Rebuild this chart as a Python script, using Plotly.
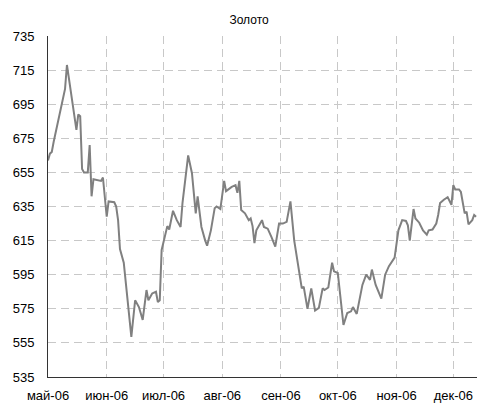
import plotly.graph_objects as go

dates = [
    "2006-05-01", "2006-05-02", "2006-05-03", "2006-05-04", "2006-05-10", "2006-05-11",
    "2006-05-16", "2006-05-17", "2006-05-18", "2006-05-19", "2006-05-20", "2006-05-22",
    "2006-05-23", "2006-05-24", "2006-05-25", "2006-05-28", "2006-05-29", "2006-05-30",
    "2006-06-01", "2006-06-02", "2006-06-05", "2006-06-06", "2006-06-07", "2006-06-08",
    "2006-06-10", "2006-06-14", "2006-06-16", "2006-06-18", "2006-06-20", "2006-06-22",
    "2006-06-23", "2006-06-25", "2006-06-27", "2006-06-28", "2006-06-29", "2006-06-30",
    "2006-07-02", "2006-07-03", "2006-07-04", "2006-07-06", "2006-07-08", "2006-07-10",
    "2006-07-11", "2006-07-14", "2006-07-16", "2006-07-17", "2006-07-18", "2006-07-19",
    "2006-07-21", "2006-07-23", "2006-07-24", "2006-07-26", "2006-07-28", "2006-07-29",
    "2006-07-31", "2006-08-02", "2006-08-03", "2006-08-06", "2006-08-08", "2006-08-09",
    "2006-08-10", "2006-08-11", "2006-08-13", "2006-08-15", "2006-08-16", "2006-08-17",
    "2006-08-18", "2006-08-19", "2006-08-22", "2006-08-23", "2006-08-25", "2006-08-27",
    "2006-08-29", "2006-08-31", "2006-09-02", "2006-09-04", "2006-09-06", "2006-09-08",
    "2006-09-11", "2006-09-12", "2006-09-13", "2006-09-15", "2006-09-17", "2006-09-19",
    "2006-09-21", "2006-09-23", "2006-09-24", "2006-09-26", "2006-09-28", "2006-09-29",
    "2006-10-01", "2006-10-04", "2006-10-06", "2006-10-08", "2006-10-09", "2006-10-11",
    "2006-10-14", "2006-10-16", "2006-10-18", "2006-10-19", "2006-10-21", "2006-10-24",
    "2006-10-26", "2006-10-28", "2006-10-31", "2006-11-02", "2006-11-04", "2006-11-06",
    "2006-11-07", "2006-11-08", "2006-11-10", "2006-11-11", "2006-11-13", "2006-11-15",
    "2006-11-17", "2006-11-18", "2006-11-20", "2006-11-22", "2006-11-23", "2006-11-24",
    "2006-11-26", "2006-11-28", "2006-11-30", "2006-12-01", "2006-12-02", "2006-12-04",
    "2006-12-05", "2006-12-07", "2006-12-08", "2006-12-09", "2006-12-11", "2006-12-12",
    "2006-12-13",
]

gold = [
    662, 666, 667, 673, 704, 718,
    680, 689, 688, 657, 655, 655,
    671, 641, 651, 650, 650, 652,
    629, 638, 637.5, 635, 627, 610,
    602, 558.5, 580, 576, 568.5, 586,
    580, 584, 585, 579, 580, 609.5,
    619, 623.5, 621.5, 632.5, 627, 623,
    637, 665, 654.5, 643, 631, 641,
    623, 615, 612, 621, 634, 635,
    633.5, 650, 644, 646.5, 647.5, 643,
    650, 633, 631, 627, 628, 623.5,
    613.5, 621, 627, 623, 622, 617,
    611.5, 625, 625, 626, 638, 615,
    592, 587, 588, 575, 587, 574,
    575.5, 587, 586, 587.5, 602, 597,
    596, 565.5, 572.5, 573.5, 576, 572,
    589, 595, 592, 598, 589, 581,
    595, 600, 605, 621, 627, 626.5,
    624, 615, 633.5, 628, 625.5, 621,
    618.5, 621, 621.5, 625, 630, 637,
    639, 640.5, 636, 647.5, 645, 645,
    643.5, 631, 632, 624.5, 627, 630,
    629,
]

month_starts = ["2006-05-01", "2006-06-01", "2006-07-01", "2006-08-01",
                "2006-09-01", "2006-10-01", "2006-11-01", "2006-12-01"]
month_labels = ["май-06", "июн-06", "июл-06", "авг-06",
                "сен-06", "окт-06", "ноя-06", "дек-06"]
y_ticks = [535, 555, 575, 595, 615, 635, 655, 675, 695, 715, 735]

font_family = "Liberation Sans, Arial, sans-serif"

fig = go.Figure()
fig.add_trace(go.Scatter(
    x=dates, y=gold, mode="lines",
    line=dict(color="#808080", width=2),
    hoverinfo="x+y", showlegend=False,
))

# the page body adds an 8px offset, so the figure is sized to fit the window
fig.update_layout(
    width=493, height=395,
    margin=dict(l=40, r=24, t=28, b=26, autoexpand=False),
    paper_bgcolor="white", plot_bgcolor="white",
    font=dict(family=font_family, size=13, color="#000000"),
    title=dict(text="Золото", x=0.489, xref="container", xanchor="center",
               y=0.97, yref="container", yanchor="middle",
               font=dict(family=font_family, size=12, color="#000000")),
)

fig.update_xaxes(
    type="date",
    range=["2006-05-01", "2006-12-13 12:00"],
    tickmode="array", tickvals=month_starts, ticktext=month_labels,
    showgrid=True, gridcolor="#c8c8c8", griddash="8px,5px", gridwidth=1,
    showline=True, linecolor="#333333", linewidth=1,
    ticks="", ticklabelstandoff=6, automargin=False,
    tickfont=dict(family=font_family, size=13, color="#000000"),
    zeroline=False,
)
fig.update_yaxes(
    range=[535, 735],
    tickmode="array", tickvals=y_ticks,
    showgrid=True, gridcolor="#c8c8c8", griddash="8px,5px", gridwidth=1,
    showline=True, linecolor="#333333", linewidth=1,
    ticks="", ticklabelstandoff=10, automargin=False,
    tickfont=dict(family=font_family, size=13, color="#000000"),
    zeroline=False,
)

fig.write_html("out.html")
